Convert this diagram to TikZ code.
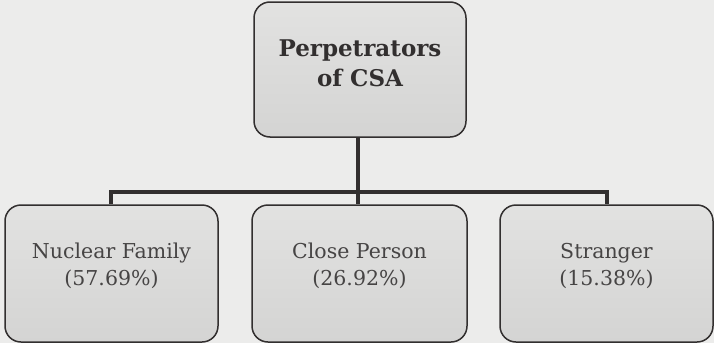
\documentclass[tikz,border=0pt]{standalone}
\usepackage{fontspec}
\setmainfont{DejaVu Serif}
\definecolor{paper}{RGB}{236,236,235}
\definecolor{boxtop}{RGB}{226,226,225}
\definecolor{boxbot}{RGB}{212,212,211}
\definecolor{ink}{RGB}{50,47,47}
\tikzset{
    leafbox/.style={draw=ink, line width=1.5pt, rounded corners=16pt,
        top color=boxtop, bottom color=boxbot, text=ink!90,
        minimum width=213pt, minimum height=137pt, align=center,
        text depth=19pt, font=\fontsize{20.5}{27}\selectfont},
    rootbox/.style={leafbox, minimum width=212pt, minimum height=135pt,
        text=ink, text depth=13pt, font=\fontsize{23}{30}\selectfont\bfseries},
    link/.style={draw=ink, line width=3.5pt}
}
\begin{document}
\begin{tikzpicture}[x=1pt, y=-1pt]
    % Background and page size
    \fill[paper] (0,0) rectangle (714,343);
    \useasboundingbox (0,0) rectangle (714,343);

    % Boxes
    \node[rootbox] (csa) at (360,69.5) {Perpetrators\\of CSA};
    \node[leafbox] (nuclear) at (111.5,273.5) {Nuclear Family\\(57.69\%)};
    \node[leafbox, minimum width=215pt] (close) at (359.5,273.5) {Close Person\\(26.92\%)};
    \node[leafbox] (stranger) at (606.5,273.5) {Stranger\\(15.38\%)};

    % Connectors
    \coordinate (junction) at (358,192);
    \draw[link] (csa.south -| junction) -- (junction);
    \draw[link] (nuclear.north -| 111,0) |- (junction) -| (stranger.north -| 607,0);
    \draw[link] (junction) -- (close.north -| junction);
\end{tikzpicture}
\end{document}
